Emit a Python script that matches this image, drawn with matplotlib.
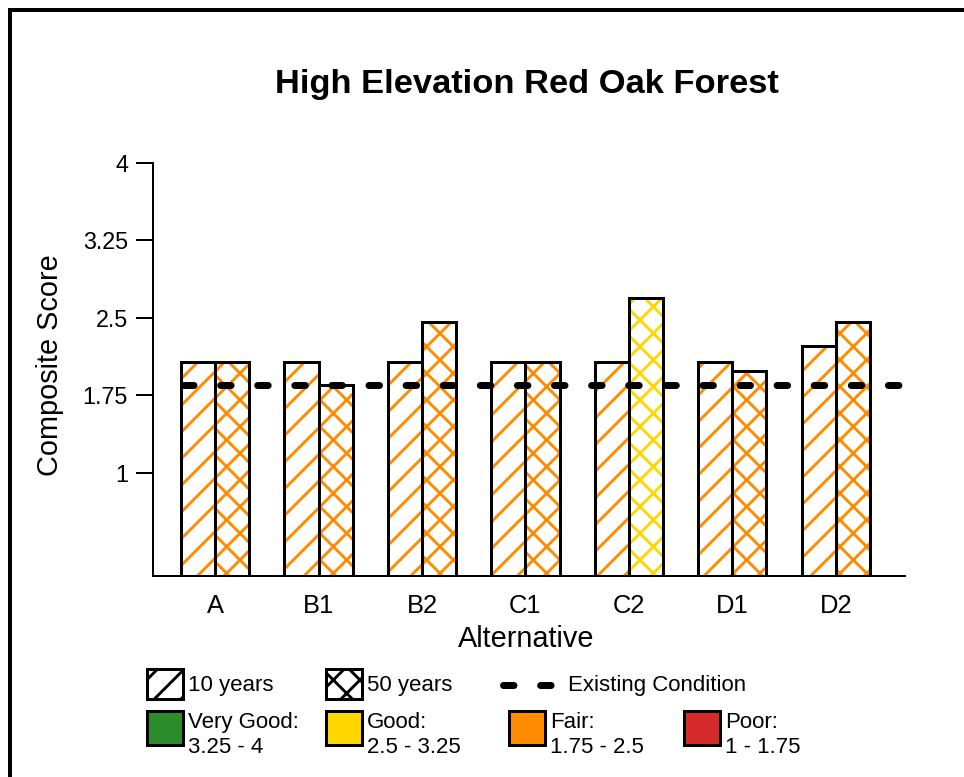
import matplotlib
matplotlib.use("Agg")
import matplotlib.pyplot as plt
from matplotlib.patches import Rectangle
from matplotlib.lines import Line2D
import numpy as np

# data
alternatives = ["A", "B1", "B2", "C1", "C2", "D1", "D2"]
score_10yr = [2.07, 2.07, 2.07, 2.07, 2.07, 2.07, 2.23]
score_50yr = [2.07, 1.85, 2.46, 2.07, 2.69, 1.99, 2.46]
existing_condition = 1.85

y_ticks = [1, 1.75, 2.5, 3.25, 4]
y_tick_labels = ["1", "1.75", "2.5", "3.25", "4"]

class_names = ["Very Good:\n3.25 - 4", "Good:\n2.5 - 3.25", "Fair:\n1.75 - 2.5", "Poor:\n1 - 1.75"]
class_lower = [3.25, 2.5, 1.75, 1.0]
class_colors = ["#2a8c2a", "#ffd700", "#ff8c00", "#d42a2a"]

DPI = 160
W, H = 964, 777


def pt(px):
    return px * 72.0 / DPI


def fx(px):
    return px / W


def fy(py):
    return 1 - py / H


def score_color(v):
    for lo, c in zip(class_lower, class_colors):
        if v >= lo:
            return c
    return class_colors[-1]


plt.rcParams["font.family"] = ["Liberation Sans", "DejaVu Sans"]
plt.rcParams["hatch.linewidth"] = 1.3

fig = plt.figure(figsize=(W / DPI, H / DPI), dpi=DPI)
ax = fig.add_axes([fx(153), fy(576), fx(905) - fx(153), fy(163) - fy(576)])

x = np.arange(len(alternatives))
bw = 0.33

for xi, v10, v50 in zip(x, score_10yr, score_50yr):
    ax.bar(xi - bw / 2, v10, bw, facecolor="white", edgecolor=score_color(v10),
           hatch="//", linewidth=0, zorder=2)
    ax.bar(xi + bw / 2, v50, bw, facecolor="white", edgecolor=score_color(v50),
           hatch="xx", linewidth=0, zorder=2)
ax.bar(x - bw / 2, score_10yr, bw, fill=False, edgecolor="black", linewidth=pt(3), zorder=3)
ax.bar(x + bw / 2, score_50yr, bw, fill=False, edgecolor="black", linewidth=pt(3), zorder=3)

# existing condition line
dash_pat = (1.5, 3.8)
line = ax.plot([-0.31, 6.67], [existing_condition] * 2, color="black",
               linewidth=pt(7), zorder=4)[0]
line.set_dashes(dash_pat)
line.set_dash_capstyle("round")

ax.set_xlim(-0.6, 6.67)
ax.set_ylim(0, 4)
ax.set_yticks(y_ticks)
ax.set_yticklabels(y_tick_labels)
ax.set_xticks(x)
ax.set_xticklabels(alternatives)
ax.tick_params(axis="y", length=pt(17), width=pt(2), pad=pt(8), labelsize=10.5)
ax.tick_params(axis="x", length=0, pad=pt(18), labelsize=11.5)
for s in ["top", "right"]:
    ax.spines[s].set_visible(False)
for s in ["left", "bottom"]:
    ax.spines[s].set_linewidth(pt(2))

fig.text(fx(527), fy(84), "High Elevation Red Oak Forest", ha="center", va="center",
         fontsize=15.5, fontweight="bold")
fig.text(fx(50), fy(365), "Composite Score", rotation=90, ha="center", va="center", fontsize=13)
fig.text(fx(526), fy(639), "Alternative", ha="center", va="center", fontsize=13)

# legend, row 1
leg_fs = 10
for bx, hatch, label in [(147, "//", "10 years"), (326, "xx", "50 years")]:
    fig.add_artist(Rectangle((fx(bx), fy(699)), fx(36), fy(669) - fy(699),
                             transform=fig.transFigure, facecolor="white", edgecolor="black",
                             hatch=hatch, linewidth=pt(3)))
    fig.text(fx(bx + 41), fy(685), label, ha="left", va="center", fontsize=leg_fs)

dash = Line2D([fx(503), fx(556)], [fy(685), fy(685)], transform=fig.transFigure,
              color="black", linewidth=pt(7))
dash.set_dashes(dash_pat)
dash.set_dash_capstyle("round")
fig.add_artist(dash)
fig.text(fx(568), fy(685), "Existing Condition", ha="left", va="center", fontsize=leg_fs)

# legend, row 2
for bx, name, col in zip([147, 326, 509, 684], class_names, class_colors):
    fig.add_artist(Rectangle((fx(bx), fy(745)), fx(36), fy(711) - fy(745),
                             transform=fig.transFigure, facecolor=col, edgecolor="black",
                             linewidth=pt(3)))
    fig.text(fx(bx + 41), fy(735), name, ha="left", va="center", fontsize=leg_fs,
             linespacing=1.3)

# frame of the figure (top and left only are visible)
fig.add_artist(Line2D([fx(10), 1], [fy(10), fy(10)], transform=fig.transFigure,
                      color="black", linewidth=pt(4)))
fig.add_artist(Line2D([fx(10), fx(10)], [fy(10), 0], transform=fig.transFigure,
                      color="black", linewidth=pt(4)))

fig.savefig("out.png", dpi=DPI)
